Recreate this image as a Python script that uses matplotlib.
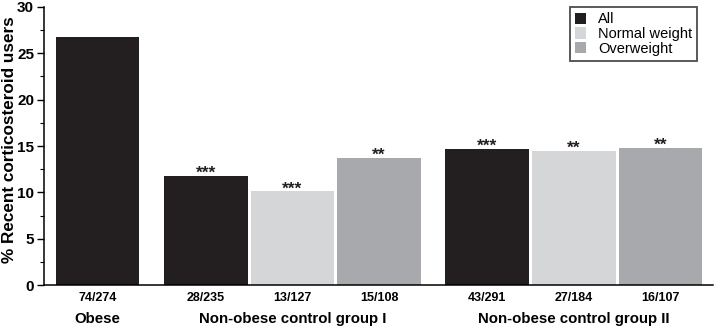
import matplotlib.pyplot as plt
from matplotlib.patches import Patch
from matplotlib.ticker import MultipleLocator

plt.rcParams['font.family'] = ['Liberation Sans', 'DejaVu Sans']

# data
counts = ['74/274', '28/235', '13/127', '15/108', '43/291', '27/184', '16/107']
values = [26.8, 11.8, 10.1, 13.7, 14.65, 14.5, 14.8]
kinds = ['All', 'All', 'Normal weight', 'Overweight', 'All', 'Normal weight', 'Overweight']
stars = ['', '***', '***', '**', '***', '**', '**']
groups = ['Obese', 'Non-obese control group I', 'Non-obese control group II']
group_members = [[0], [1, 2, 3], [4, 5, 6]]

colors = {'All': '#231f20', 'Normal weight': '#d5d6d8', 'Overweight': '#a8a9ac'}

# bar positions: unit spacing inside a group, a bit more between groups
xpos = [0, 1.25, 2.25, 3.25, 4.5, 5.5, 6.5]

fig = plt.figure(figsize=(7.19, 3.27), dpi=100)
ax = fig.add_axes([0.061, 0.128, 0.931, 0.851])

ax.bar(xpos, values, width=0.965, color=[colors[k] for k in kinds], zorder=2)

for x, v, s in zip(xpos, values, stars):
    if s:
        ax.text(x, v - 0.2, s, ha='center', va='baseline', fontsize=12.5,
                fontweight='bold', color='#231f20', zorder=3)

ax.set_xlim(-0.62, 7.11)
ax.set_ylim(0, 30)
ax.yaxis.set_major_locator(MultipleLocator(5))
ax.yaxis.set_minor_locator(MultipleLocator(2.5))
ax.tick_params(axis='y', which='major', length=5, width=1, pad=2, labelsize=11)
ax.tick_params(axis='y', which='minor', length=3, width=0.8)
for lab in ax.get_yticklabels():
    lab.set_fontweight('bold')

ax.set_xticks(xpos)
ax.set_xticklabels(counts, fontsize=9, fontweight='bold')
ax.tick_params(axis='x', length=0, pad=5)

for sp in ['top', 'right']:
    ax.spines[sp].set_visible(False)
for sp in ['left', 'bottom']:
    ax.spines[sp].set_linewidth(1.1)

# group labels under the count labels
for name, members in zip(groups, group_members):
    cx = sum(xpos[i] for i in members) / len(members)
    ax.text(cx, -0.12, name, transform=ax.get_xaxis_transform(), ha='center',
            va='center', fontsize=10.8, fontweight='bold')

fig.text(0.013, 0.572, '% Recent corticosteroid users', rotation=90, ha='center',
         va='center', fontsize=12.3, fontweight='bold')

handles = [Patch(facecolor=colors[k], label=k) for k in ['All', 'Normal weight', 'Overweight']]
leg = ax.legend(handles=handles, loc='upper right', bbox_to_anchor=(0.987, 1.025),
                fontsize=10.5, frameon=True, fancybox=False, edgecolor='#231f20',
                handlelength=0.8, handleheight=0.8, handletextpad=0.8,
                labelspacing=0.05, borderpad=0.35)
leg.get_frame().set_linewidth(1.3)

fig.savefig('out.png', dpi=100)
